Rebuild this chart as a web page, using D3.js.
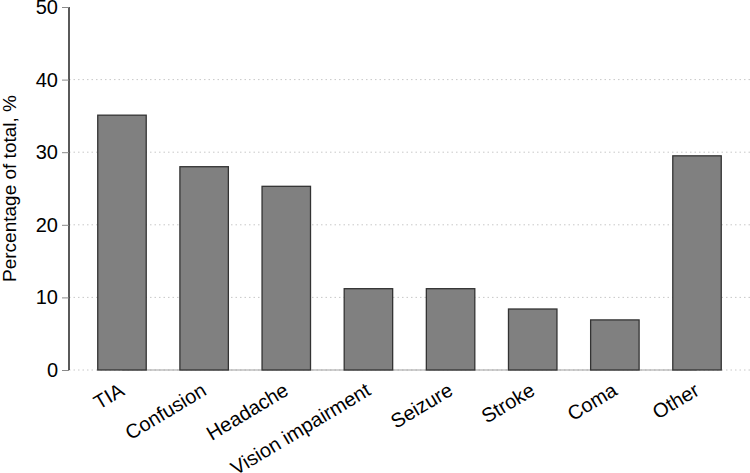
<!DOCTYPE html>
<html>
<head>
<meta charset="utf-8">
<script src="https://cdn.jsdelivr.net/npm/d3@7"></script>
<style>
  body { margin: 0; background: #fff; }
  text { font-family: "Liberation Sans", Arial, sans-serif; }
</style>
</head>
<body>
<div id="wrapper"></div>
<script>
const categories = ["TIA", "Confusion", "Headache", "Vision impairment", "Seizure", "Stroke", "Coma", "Other"];
const percentages = [35.1, 28.0, 25.3, 11.2, 11.2, 8.4, 6.9, 29.5];
const yTicks = [0, 10, 20, 30, 40, 50];

function buildPlot() {
    const dimension = {
        width: 750,
        height: 473,
        margin: { top: 7, left: 69, bottom: 103, right: 0 }
    };
    dimension.boundedWidth = dimension.width - dimension.margin.left - dimension.margin.right;
    dimension.boundedHeight = dimension.height - dimension.margin.top - dimension.margin.bottom;

    const svg = d3.select("#wrapper").append("svg")
        .attr("width", dimension.width)
        .attr("height", dimension.height);

    const bounded = svg.append("g")
        .attr("transform", `translate(${dimension.margin.left},${dimension.margin.top})`);

    const xScaler = d3.scaleBand()
        .domain(categories)
        .range([0, dimension.boundedWidth])
        .paddingInner(0.41)
        .paddingOuter(0.35);

    const yScaler = d3.scaleLinear()
        .domain([0, 50])
        .range([dimension.boundedHeight, 0]);

    // dotted grid lines (not at the top)
    bounded.append("g")
        .selectAll("line")
        .data(yTicks.filter(d => d < 50))
        .join("line")
        .attr("x1", 0)
        .attr("x2", dimension.boundedWidth)
        .attr("y1", d => yScaler(d))
        .attr("y2", d => yScaler(d))
        .attr("stroke", "#c8c8c8")
        .attr("stroke-width", 1)
        .attr("stroke-dasharray", "1.5,3");

    // baseline between first and last bar centres
    const firstC = xScaler(categories[0]) + xScaler.bandwidth() / 2;
    const lastC = xScaler(categories[categories.length - 1]) + xScaler.bandwidth() / 2;
    bounded.append("line")
        .attr("x1", firstC)
        .attr("x2", lastC)
        .attr("y1", yScaler(0))
        .attr("y2", yScaler(0))
        .attr("stroke", "#a0a0a0")
        .attr("stroke-width", 1.2);

    // bars
    bounded.append("g")
        .selectAll("rect")
        .data(categories)
        .join("rect")
        .attr("x", d => xScaler(d))
        .attr("width", xScaler.bandwidth())
        .attr("y", (d, i) => yScaler(percentages[i]))
        .attr("height", (d, i) => yScaler(0) - yScaler(percentages[i]))
        .attr("fill", "#808080")
        .attr("stroke", "#333333")
        .attr("stroke-width", 1.3);

    // y axis
    const y_axis = d3.axisLeft(yScaler)
        .tickValues(yTicks)
        .tickSize(7)
        .tickPadding(4);
    const yAxisG = bounded.append("g").call(y_axis);
    yAxisG.select(".domain").attr("stroke", "#000").attr("stroke-width", 1.3).attr("d", `M0,${yScaler(50)}V${yScaler(0)}`);
    yAxisG.selectAll(".tick line").attr("stroke", "#8a8a8a");
    yAxisG.selectAll(".tick text")
        .attr("fill", "#000")
        .style("font-size", "20px")
        .style("font-family", "'Liberation Sans', Arial, sans-serif");

    // category labels, rotated
    bounded.append("g")
        .selectAll("text")
        .data(categories)
        .join("text")
        .attr("transform", d => `translate(${xScaler(d) + xScaler.bandwidth() / 2},${dimension.boundedHeight + 18}) rotate(-31)`)
        .attr("text-anchor", "end")
        .attr("dy", "0.35em")
        .style("font-size", "20px")
        .attr("fill", "#000")
        .text(d => d);

    // y label
    svg.append("text")
        .attr("transform", `translate(16,${dimension.margin.top + dimension.boundedHeight / 2}) rotate(-90)`)
        .attr("text-anchor", "middle")
        .style("font-size", "19px")
        .attr("fill", "#000")
        .text("Percentage of total, %");
}

buildPlot();
</script>
</body>
</html>
